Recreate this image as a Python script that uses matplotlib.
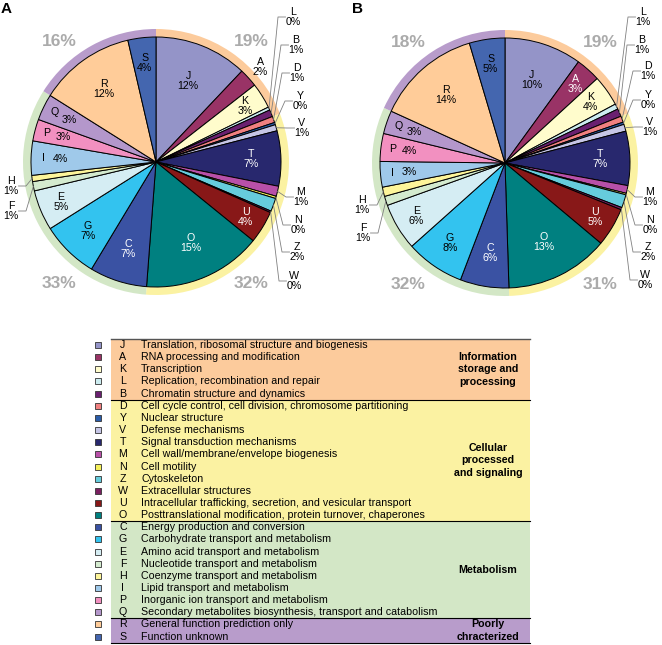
import numpy as np
import matplotlib
matplotlib.use("Agg")
import matplotlib.pyplot as plt
from matplotlib.patches import Rectangle

plt.rcParams['font.family'] = ['Liberation Sans', 'DejaVu Sans']

# COG categories in the order they appear round the pies (clockwise from 12 o'clock)
codes = ['J', 'A', 'K', 'L', 'B', 'D', 'Y', 'V', 'T', 'M', 'N', 'Z', 'W', 'U', 'O',
         'C', 'G', 'E', 'F', 'H', 'I', 'P', 'Q', 'R', 'S']
descriptions = [
    'Translation, ribosomal structure and biogenesis',
    'RNA processing and modification',
    'Transcription',
    'Replication, recombination and repair',
    'Chromatin structure and dynamics',
    'Cell cycle control, cell division, chromosome partitioning',
    'Nuclear structure',
    'Defense mechanisms',
    'Signal transduction mechanisms',
    'Cell wall/membrane/envelope biogenesis',
    'Cell motility',
    'Cytoskeleton',
    'Extracellular structures',
    'Intracellular trafficking, secretion, and vesicular transport',
    'Posttranslational modification, protein turnover, chaperones',
    'Energy production and conversion',
    'Carbohydrate transport and metabolism',
    'Amino acid transport and metabolism',
    'Nucleotide transport and metabolism',
    'Coenzyme transport and metabolism',
    'Lipid transport and metabolism',
    'Inorganic ion transport and metabolism',
    'Secondary metabolites biosynthesis, transport and catabolism',
    'General function prediction only',
    'Function unknown',
]
pct_a = [12.0, 2.4, 3.3, 0.4, 0.9, 0.8, 0.3, 0.8, 7.1, 1.3, 0.3, 1.7, 0.2, 4.2, 15.3,
         7.4, 7.4, 5.2, 1.2, 0.8, 4.4, 2.8, 3.4, 12.4, 3.6]
pct_b = [10.0, 3.2, 4.0, 0.7, 1.0, 0.8, 0.3, 0.9, 7.0, 1.0, 0.2, 1.7, 0.3, 5.0, 13.4,
         6.3, 7.6, 6.1, 1.2, 1.2, 3.3, 3.6, 3.0, 13.6, 4.6]

group_names = ['Information\nstorage and\nprocessing', 'Cellular\nprocessed\nand signaling',
               'Metabolism', 'Poorly\nchracterized']
group_sizes = [5, 10, 8, 2]

slice_colors = {
    'J': '#9494C8', 'A': '#993366', 'K': '#FFFCCC', 'L': '#CCECF0', 'B': '#6A2070',
    'D': '#F08080', 'Y': '#2A5CA8', 'V': '#C6C6E6', 'T': '#28286E', 'M': '#B850A8',
    'N': '#F5F05A', 'Z': '#66CCDC', 'W': '#7A2060', 'U': '#881818', 'O': '#008080',
    'C': '#3A52A3', 'G': '#33C3EF', 'E': '#D5EDF3', 'F': '#D4EBCF', 'H': '#FDF59A',
    'I': '#9FC9EA', 'P': '#F290C0', 'Q': '#B497CB', 'R': '#FFCC99', 'S': '#4466AF',
}
group_colors = ['#FCCB9C', '#FBF2A2', '#D3E7C6', '#B89CCB']
white_text = {'A', 'T', 'U', 'O', 'C'}

# where the in-slice labels sit (radius along the slice middle)
label_r = {'J': 0.87, 'A': 1.06, 'K': 1.05, 'T': 0.95, 'U': 1.05, 'O': 0.88, 'C': 0.91,
           'G': 0.97, 'E': 1.03, 'R': 0.90, 'S': 1.0}
split_labels = ['I', 'P', 'Q']

callouts_a = {'L': (1.37, 1.45), 'B': (1.40, 1.17), 'D': (1.41, 0.89), 'Y': (1.44, 0.61),
              'V': (1.46, 0.34), 'M': (1.45, -0.35), 'N': (1.42, -0.63), 'Z': (1.41, -0.90),
              'W': (1.38, -1.19), 'H': (-1.45, -0.24), 'F': (-1.45, -0.49)}
callouts_b = {'L': (1.38, 1.46), 'B': (1.37, 1.18), 'D': (1.43, 0.92), 'Y': (1.43, 0.63),
              'V': (1.45, 0.36), 'M': (1.45, -0.34), 'N': (1.45, -0.62), 'Z': (1.43, -0.89),
              'W': (1.40, -1.17), 'H': (-1.43, -0.42), 'F': (-1.42, -0.70)}
group_text_pos = [(0.95, 1.21), (0.95, -1.21), (-0.97, -1.21), (-0.97, 1.21)]

W, H = 662, 645
fig = plt.figure(figsize=(W / 100, H / 100), dpi=100)


def draw_pie(ax, pct, callouts, a_outside):
    cols = [slice_colors[c] for c in codes]
    sums = []
    start = 0
    for n in group_sizes:
        sums.append(sum(pct[start:start + n]))
        start += n
    ax.pie(sums, colors=group_colors, startangle=90, counterclock=False, radius=1.33,
           wedgeprops=dict(width=0.08, edgecolor='none'))
    wedges, _ = ax.pie(pct, colors=cols, startangle=90, counterclock=False, radius=1.25,
                       wedgeprops=dict(edgecolor='black', linewidth=0.7))
    for c, v, w in zip(codes, pct, wedges):
        th = np.deg2rad((w.theta1 + w.theta2) / 2)
        lab = '%.0f%%' % v
        if c in callouts:
            tx, ty = callouts[c]
            side = np.sign(tx)
            ex, ey = 1.25 * np.cos(th), 1.25 * np.sin(th)
            ax.plot([ex, tx - side * 0.15, tx - side * 0.075], [ey, ty, ty],
                    color='#808080', lw=0.6, clip_on=False)
            ax.text(tx, ty, c + '\n' + lab, ha='center', va='center', fontsize=7.7,
                    linespacing=1.0, clip_on=False)
        elif c in split_labels:
            ax.text(1.13 * np.cos(th), 1.13 * np.sin(th), c, ha='center', va='center',
                    fontsize=7.7)
            ax.text(0.96 * np.cos(th), 0.96 * np.sin(th), lab, ha='center', va='center',
                    fontsize=7.7)
        else:
            r = label_r[c]
            color = 'white' if c in white_text else 'black'
            if c == 'A' and a_outside:
                r = 1.41
                color = 'black'
            ax.text(r * np.cos(th), r * np.sin(th), c + '\n' + lab, ha='center',
                    va='center', fontsize=7.7, color=color, linespacing=1.0)
    for s, (gx, gy) in zip(sums, group_text_pos):
        ax.text(gx, gy, '%.0f%%' % s, ha='center', va='center', fontsize=12.5,
                fontweight='bold', color='#ABABAB')
    ax.set_xlim(-1.5, 1.5)
    ax.set_ylim(-1.5, 1.5)
    ax.set_aspect('equal')
    ax.axis('off')


ax_a = fig.add_axes([6 / W, 1 - 312 / H, 300 / W, 300 / H])
draw_pie(ax_a, pct_a, callouts_a, True)
ax_b = fig.add_axes([355 / W, 1 - 313 / H, 300 / W, 300 / H])
draw_pie(ax_b, pct_b, callouts_b, False)

fig.text(1 / W, 1 - 9 / H, 'A', fontsize=11, fontweight='bold', va='center', ha='left')
fig.text(352 / W, 1 - 9 / H, 'B', fontsize=11, fontweight='bold', va='center', ha='left')

# legend table, drawn in pixel coordinates
leg = fig.add_axes([0, 0, 1, 1])
leg.set_xlim(0, W)
leg.set_ylim(H, 0)
leg.axis('off')

row_h = 12.15
top = 345 - row_h / 2
start = 0
for gi, (name, n) in enumerate(zip(group_names, group_sizes)):
    y0 = top + start * row_h
    y1 = top + (start + n) * row_h
    leg.add_patch(Rectangle((111, y0), 419, y1 - y0, facecolor=group_colors[gi],
                            edgecolor='none'))
    leg.plot([111, 530], [y1, y1], color='black', lw=0.8)
    leg.text(488, (y0 + y1) / 2, name, ha='center', va='center', fontsize=7.7,
             fontweight='bold', linespacing=1.35)
    start += n
leg.plot([111, 530], [top, top], color='#555555', lw=1.0)

for i, (c, d) in enumerate(zip(codes, descriptions)):
    y = 345 + i * row_h
    leg.add_patch(Rectangle((95, y - 3), 6, 6, facecolor=slice_colors[c],
                            edgecolor='#333333', lw=0.6))
    leg.text(123, y, c, ha='center', va='center', fontsize=7.7)
    leg.text(141, y, d, ha='left', va='center', fontsize=7.7)

fig.savefig('out.png', dpi=100)
